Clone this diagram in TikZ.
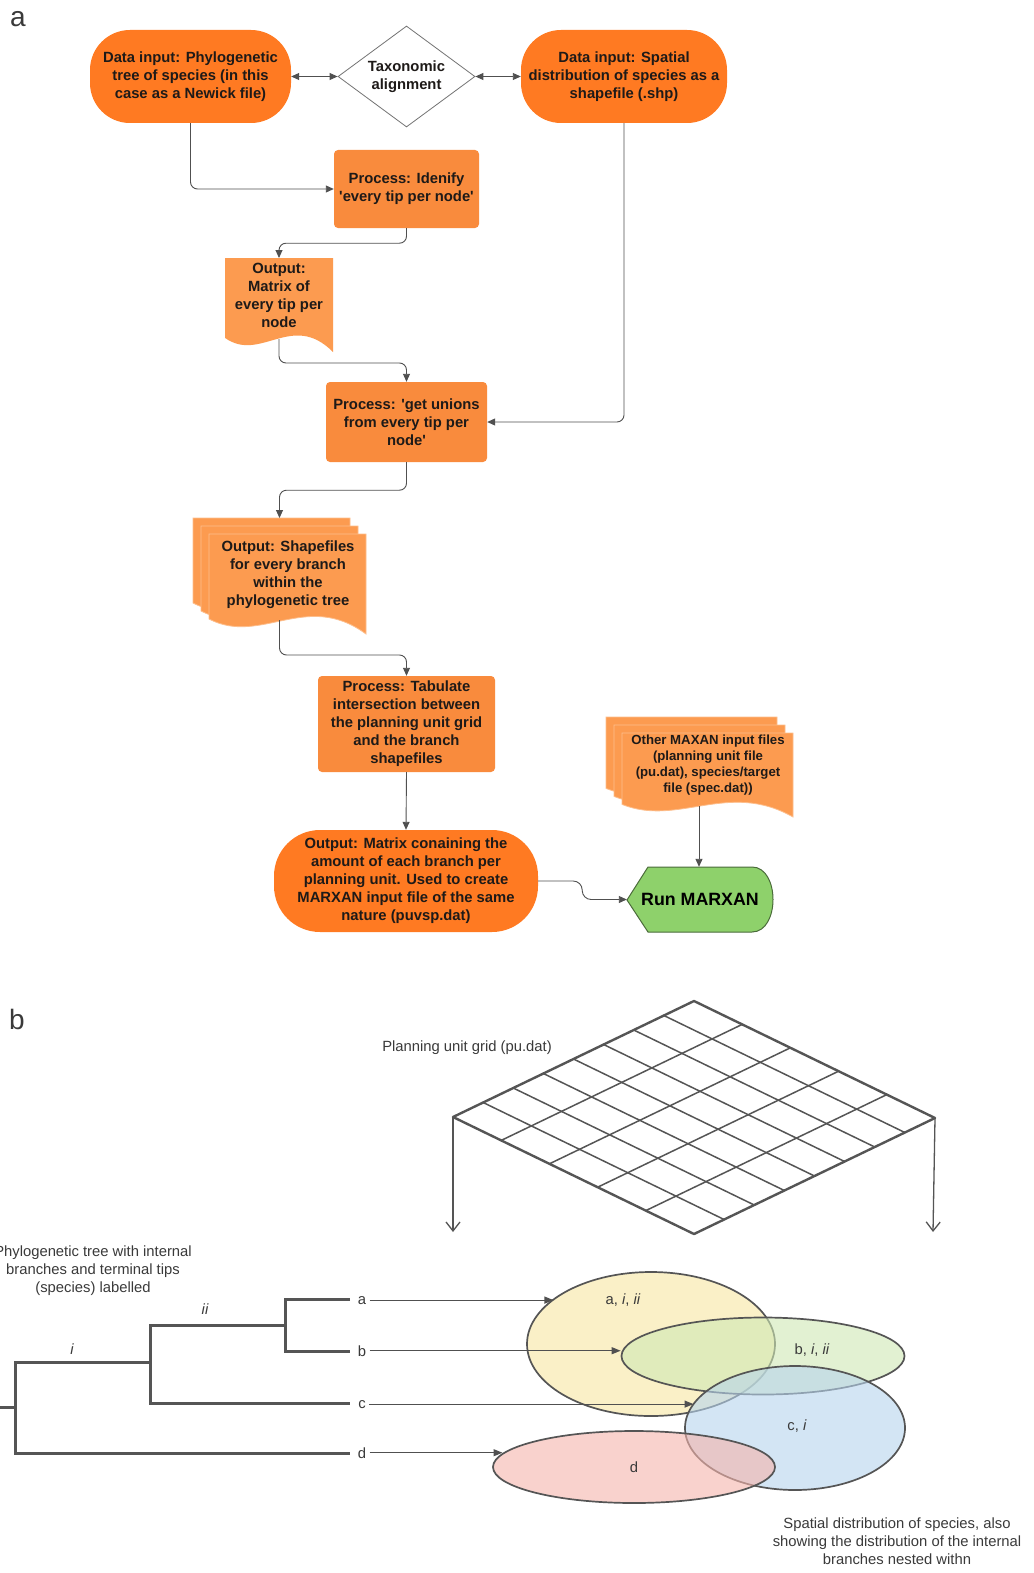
\documentclass[tikz,border=0pt]{standalone}
\usepackage{fontspec}
\setmainfont{Liberation Sans}
\usetikzlibrary{shapes.geometric,arrows.meta,calc}
\definecolor{termor}{HTML}{FF7A22}
\definecolor{procor}{HTML}{F98B3D}
\definecolor{docor}{HTML}{FC9B50}
\definecolor{docedge}{HTML}{FDBE8C}
\definecolor{rungreen}{HTML}{8ED16B}
\definecolor{runedge}{HTML}{4A6B3A}
\definecolor{txtdark}{HTML}{1E1A18}
\definecolor{linegray}{HTML}{505050}
\definecolor{txtgray}{HTML}{3A3A3A}
\definecolor{treegray}{HTML}{555555}
\definecolor{ya}{HTML}{F8E6A3}
\definecolor{gb}{HTML}{CFE9B4}
\definecolor{bc}{HTML}{B7D4EE}
\definecolor{pd}{HTML}{F5B4AC}
\newcommand{\fcfont}{\fontsize{14.8pt}{18pt}\selectfont\bfseries}
\newcommand{\fcsmall}{\fontsize{13.2pt}{16pt}\selectfont\bfseries}
\newcommand{\runfont}{\fontsize{17.8pt}{20pt}\selectfont\bfseries}
\newcommand{\btfont}{\fontsize{14.8pt}{18pt}\selectfont}
\newcommand{\docshape}[5]{%
  \path[#5] (#1,{#2+0.85*#4}) -- (#1,#2) -- ({#1+#3},#2) -- ({#1+#3},{#2+#4})
    .. controls ({#1+0.62*#3},{#2+0.56*#4}) and ({#1+0.33*#3},{#2+1.12*#4}) .. (#1,{#2+0.85*#4}) -- cycle;}
\begin{document}
\begin{tikzpicture}[x=1pt,y=-1pt,
  conn/.style={draw=linegray, line width=0.9pt, rounded corners=7pt, -{Triangle[length=8pt,width=7pt]}},
  dconn/.style={draw=linegray, line width=0.9pt, {Triangle[length=8pt,width=7pt]}-{Triangle[length=8pt,width=7pt]}},
  term/.style={fill=termor, rounded corners=40pt, align=center, font=\fcfont, text=txtdark, inner sep=0pt},
  proc/.style={fill=procor, rounded corners=4pt, align=center, font=\fcfont, text=txtdark, inner sep=0pt},
  lbl/.style={align=center, font=\fcfont, text=txtdark, inner sep=0pt},
  btext/.style={font=\btfont, text=txtgray, align=center},
  tree/.style={draw=treegray, line width=3pt},
  ell/.style={ellipse, draw=treegray, line width=1.7pt, inner sep=0pt, fill opacity=0.6},
  tarrow/.style={draw=linegray, line width=1.1pt, -{Triangle[length=9pt,width=7pt]}},
  garrow/.style={draw=treegray, line width=1.3pt, -{Straight Barb[length=9pt,width=14pt]}},
  docst/.style={fill=docor, draw=docedge, line width=0.8pt}
]
\useasboundingbox (0,0) rectangle (1033,1573);
\fill[white] (0,0) rectangle (1033,1573);

% panel letters
\node[font=\fontsize{28pt}{30pt}\selectfont, text=txtgray] (pa) at (18,19) {a};
\node[font=\fontsize{28pt}{30pt}\selectfont, text=txtgray] (pb) at (17,1019) {b};

% ---------- flowchart ----------
\node[term, minimum width=201pt, minimum height=93pt] (t1) at (190.5,76.5) {Data input: Phylogenetic\\tree of species (in this\\case as a Newick file)};
\node[diamond, draw=linegray!80, line width=0.8pt, fill=white, aspect=1.36, minimum width=137pt, minimum height=101pt, inner sep=0pt, font=\fcfont, text=txtdark, align=center] (dia) at (406.5,76.5) {Taxonomic\\alignment};
\node[term, minimum width=206pt, minimum height=93pt] (t2) at (624,76.5) {Data input: Spatial\\distribution of species as a\\shapefile (.shp)};

\node[proc, minimum width=145pt, minimum height=78pt] (p1) at (406.5,189) {Process: Idenify\\\textquotesingle every tip per node\textquotesingle};

\docshape{225}{258}{108}{94}{fill=docor}
\node[lbl] (d1) at (279,295) {Output:\\Matrix of\\every tip per\\node};
\coordinate (d1top) at (279,258);
\coordinate (d1bot) at (279,339);

\node[proc, minimum width=161pt, minimum height=80pt] (p2) at (406.5,422) {Process: \textquotesingle get unions\\from every tip per\\node\textquotesingle};

\docshape{193}{518}{157}{100}{docst}
\docshape{201}{526}{157}{100}{docst}
\docshape{209}{534}{157}{100}{docst}
\node[lbl] (d2) at (288,575) {Output: Shapefiles\\for every branch\\within the\\phylogenetic tree};
\coordinate (d2top) at (279.5,518);
\coordinate (d2bot) at (279.5,620);

\node[proc, minimum width=177pt, minimum height=96pt] (p3) at (406.5,724) {Process: Tabulate\\intersection between\\the planning unit grid\\and the branch\\shapefiles};

\node[term, rounded corners=46pt, minimum width=264pt, minimum height=102pt] (t3) at (406,881) {Output: Matrix conaining the\\amount of each branch per\\planning unit. Used to create\\MARXAN input file of the same\\nature (puvsp.dat)};

\docshape{606}{717}{171}{84}{docst}
\docshape{614}{725}{171}{84}{docst}
\docshape{622}{733}{171}{84}{docst}
\node[lbl, font=\fcsmall] (d3) at (708,765) {Other MAXAN input files\\(planning unit file\\(pu.dat), species/target\\file (spec.dat))};
\coordinate (d3bot) at (699,806);

\path[fill=rungreen, draw=runedge, line width=1pt] (627,900) -- (648,867) -- (752,867) .. controls (780,867) and (780,932) .. (752,932) -- (648,932) -- cycle;
\node[minimum width=146pt, minimum height=65pt, inner sep=0pt, font=\runfont, text=black] (run) at (700,899.5) {Run MARXAN};

\draw[dconn] (t1.east) -- (dia.west);
\draw[dconn] (dia.east) -- (t2.west);
\draw[conn] (t1.south) |- (p1.west);
\draw[conn] (p1.south) -- ++(0,15) -| (d1top);
\draw[conn] (d1bot) -- ++(0,24) -| (p2.north);
\draw[conn] (t2.south) |- (p2.east);
\draw[conn] (p2.south) -- ++(0,28) -| (d2top);
\draw[conn] (d2bot) -- ++(0,35) -| (p3.north);
\draw[conn] (p3.south) -- (t3.north);
\draw[conn] (d3bot) -- (d3bot |- run.north);
\draw[conn, rounded corners=9pt] (t3.east) -- ++(44,0) |- (run.west);

% ---------- panel b ----------
\node[btext] (gridlbl) at (467,1048) {Planning unit grid (pu.dat)};
\coordinate (gL) at (453,1117);
\coordinate (gT) at (694,1001);
\coordinate (gR) at (935,1118);
\coordinate (gB) at (694,1234);
\foreach \i in {1,...,7} {\draw[draw=treegray, line width=1.5pt] ($(gL)!\i/8!(gT)$) -- ($(gB)!\i/8!(gR)$);}
\foreach \j in {1,...,4} {\draw[draw=treegray, line width=1.5pt] ($(gL)!\j/5!(gB)$) -- ($(gT)!\j/5!(gR)$);}
\draw[draw=treegray, line width=2.4pt, line join=round] (gL) -- (gT) -- (gR) -- (gB) -- cycle;
\coordinate (gLa) at (453,1232);
\coordinate (gRa) at (933,1232);
\draw[garrow] (gL) -- (gLa);
\draw[garrow] (gR) -- (gRa);

% tree
\node[btext] (ttl) at (93,1271) {Phylogenetic tree with internal\\branches and terminal tips\\(species) labelled};
\draw[tree] (0,1407) -- (15,1407);
\draw[tree] (150,1362) -- (15,1362) -- (15,1453) -- (350,1453);
\draw[tree] (285,1325) -- (150,1325) -- (150,1403) -- (350,1403);
\draw[tree] (350,1299) -- (285,1299) -- (285,1351) -- (350,1351);
\node[btext, font=\btfont\itshape] (li) at (72,1349) {i};
\node[btext, font=\btfont\itshape] (lii) at (205,1309) {ii};

% ellipses
\node[ell, fill=ya, minimum width=248pt, minimum height=144pt] (ea) at (651,1344) {};
\node[ell, fill=gb, minimum width=283pt, minimum height=77pt] (eb) at (763,1356) {};
\node[ell, fill=bc, minimum width=220pt, minimum height=124pt] (ec) at (795,1428) {};
\node[ell, fill=pd, minimum width=282pt, minimum height=72pt] (ed) at (634,1467) {};

\node[btext, anchor=base] (la) at (362,1304) {a};
\node[btext, anchor=base] (lb) at (362,1356) {b};
\node[btext, anchor=base] (lc) at (362,1408) {c};
\node[btext, anchor=base] (ld) at (362,1458) {d};
\draw[tarrow] (la.east) -- (la.east -| ea.155);
\draw[tarrow] (lb.east) -- (lb.east -| eb.west);
\draw[tarrow] (lc.east) -- (lc.east -| ec.166);
\draw[tarrow] (ld.east) -- (ld.east -| ed.174);

\node[btext, anchor=base] (tea) at (623,1304) {a, \textit{i}, \textit{ii}};
\node[btext, anchor=base] (teb) at (812,1354) {b, \textit{i}, \textit{ii}};
\node[btext, anchor=base] (tec) at (797,1430) {c, \textit{i}};
\node[btext, anchor=base] (ted) at (634,1472) {d};

\node[btext] (spl) at (897,1541) {Spatial distribution of species, also\\showing the distribution of the internal\\branches nested withn};
\end{tikzpicture}
\end{document}
